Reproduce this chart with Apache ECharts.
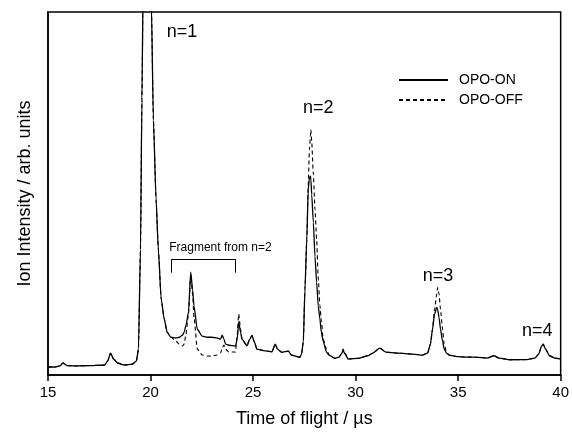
<!DOCTYPE html>
<html><head><meta charset="utf-8">
<script src="https://cdn.jsdelivr.net/npm/echarts@6/dist/echarts.min.js"></script>
<style>html,body{margin:0;padding:0;background:#fff}#c{width:572px;height:433px}</style>
</head><body><div id="c"></div>
<script>
// Time of flight (µs)
const timeUs = [15.00,15.34,15.58,15.73,15.92,16.31,17.03,17.76,17.91,18.05,18.20,18.39,18.73,19.12,19.31,19.41,19.51,19.58,19.65,19.75,19.85,19.95,20.04,20.14,20.27,20.38,20.52,20.67,20.81,20.99,21.24,21.40,21.56,21.64,21.73,21.85,21.96,22.05,22.12,22.28,22.52,22.75,22.99,23.24,23.42,23.49,23.58,23.66,23.82,24.14,24.23,24.30,24.39,24.46,24.70,24.84,24.95,25.06,25.19,25.51,25.92,26.08,26.19,26.40,26.72,26.87,27.28,27.36,27.45,27.53,27.62,27.69,27.75,27.80,27.82,27.86,27.94,28.02,28.10,28.18,28.26,28.33,28.42,28.58,28.71,28.99,29.20,29.30,29.39,29.49,29.63,30.12,30.60,30.84,31.18,31.47,32.05,32.78,33.26,33.51,33.65,33.75,33.85,33.96,34.00,34.07,34.14,34.24,34.32,34.43,34.56,34.96,35.45,35.93,36.42,36.74,37.00,37.53,38.35,38.74,38.93,39.07,39.15,39.26,39.46,39.71,40.00];
// Ion intensity, OPO-ON (arb. units)
const ionOn = [2.2,2.2,2.5,3.3,2.6,2.5,2.6,2.75,3.85,6.0,4.4,3.3,2.75,3.0,3.85,7.1,34.6,75.8,115,150,165,140,102,70.3,48.4,34.6,20.9,15.4,11.8,10.4,10.2,10.4,11.0,11.8,13.7,17.3,28.3,23.6,19.0,12.6,10.7,10.4,10.4,10.2,9.9,11.0,9.9,8.5,8.2,7.97,9.9,14.6,11.8,9.9,8.05,9.9,10.9,9.1,7.14,6.73,6.40,8.5,7.14,6.24,6.6,5.5,4.86,5.77,9.07,23.6,37.4,51.1,54.4,54.8,53.8,49.7,42.0,32.7,25.5,19.0,15.4,11.8,9.34,6.32,5.49,4.59,4.95,5.77,6.68,5.77,4.40,4.59,5.30,6.04,7.42,6.32,6.04,5.77,5.49,6.04,8.52,12.6,16.8,18.6,18.1,15.9,12.6,9.34,7.14,6.04,5.49,5.08,4.95,4.86,4.67,5.30,4.67,4.20,4.26,4.67,5.77,7.97,8.52,7.14,5.30,4.67,4.40];
// Ion intensity, OPO-OFF (arb. units)
const ionOff = [2.2,2.2,2.5,3.3,2.6,2.5,2.6,2.75,3.85,6.0,4.4,3.3,2.75,3.0,3.85,7.1,34.6,75.8,115,150,165,140,102,70.3,48.4,34.6,20.9,15.4,11.8,10.4,9.34,8.52,7.97,8.52,11.3,16.8,27.7,22.3,15.9,7.14,5.49,5.22,5.22,5.49,6.04,7.42,8.24,7.14,6.32,6.32,11.3,16.8,12.6,9.9,8.05,9.9,10.9,9.1,7.14,6.73,6.40,8.5,7.14,6.24,6.6,5.5,4.86,5.77,9.07,23.6,37.4,52.5,62.1,66.2,67.6,64.3,55.2,45.6,37.4,26.4,19.2,14.8,9.89,7.14,5.49,4.59,4.95,5.77,7.14,6.04,4.40,4.59,5.30,6.04,7.42,6.32,6.04,5.77,5.49,6.04,8.52,12.6,18.1,22.3,24.1,22.3,18.1,12.6,8.52,6.32,5.49,5.08,4.95,4.86,4.67,5.30,4.67,4.20,4.26,4.67,5.77,7.97,8.52,7.14,5.30,4.67,4.40];
const xTicks = [15, 20, 25, 30, 35, 40];
const peakLabels = ['n=1', 'n=2', 'n=3', 'n=4'];
const peakLabelPos = [[21.54, 94.5], [28.18, 73.6], [34.02, 27.3], [38.86, 12.2]];
const fragmentText = 'Fragment from n=2';
const fragmentRange = [21.0, 24.14];
const fragmentLevels = [31.9, 28.2];
const fragmentTextPos = [23.41, 35.0];

const FONT = '"Liberation Sans", Arial, sans-serif';
const chart = echarts.init(document.getElementById('c'), null, {renderer: 'canvas'});
const pair = arr => timeUs.map((t, i) => [t, arr[i]]);

chart.setOption({
  animation: false,
  backgroundColor: '#fff',
  textStyle: {fontFamily: FONT, color: '#000'},
  grid: {left: 48, right: 8, top: 12, bottom: 57, show: true, borderColor: '#000', borderWidth: 1.5, containLabel: false},
  legend: {
    data: ['OPO-ON', 'OPO-OFF'],
    orient: 'vertical', left: 393, top: 68,
    itemWidth: 49, itemHeight: 14, itemGap: 6,
    itemStyle: {opacity: 0},
    textStyle: {fontFamily: FONT, fontSize: 14, color: '#000', padding: [0, 0, 0, 6]},
    selectedMode: false
  },
  xAxis: {
    type: 'value', min: 15, max: 40, interval: 5,
    name: 'Time of flight / µs', nameLocation: 'middle', nameGap: 35,
    nameTextStyle: {fontFamily: FONT, fontSize: 18, color: '#000'},
    axisLine: {show: true, lineStyle: {color: '#000', width: 1.5}},
    axisTick: {show: true, inside: false, length: 6, lineStyle: {color: '#000', width: 1.5}},
    axisLabel: {fontFamily: FONT, fontSize: 15, color: '#000', margin: 10,
      formatter: v => xTicks.includes(v) ? String(v) : ''},
    splitLine: {show: false}
  },
  yAxis: {
    type: 'value', min: 0, max: 100,
    name: 'Ion Intensity / arb. units', nameLocation: 'middle', nameGap: 14,
    nameTextStyle: {fontFamily: FONT, fontSize: 18, color: '#000'},
    axisLine: {show: true, lineStyle: {color: '#000', width: 1.5}},
    axisTick: {show: false}, axisLabel: {show: false}, splitLine: {show: false}
  },
  series: [
    {
      name: 'OPO-OFF', type: 'line', data: pair(ionOff), symbol: 'none', clip: true,
      smooth: 0.2, smoothMonotone: 'x',
      lineStyle: {color: '#000', width: 1.1, type: [4, 3]}, itemStyle: {color: '#000'}
    },
    {
      name: 'OPO-ON', type: 'line', data: pair(ionOn), symbol: 'none', clip: true,
      smooth: 0.2, smoothMonotone: 'x',
      lineStyle: {color: '#000', width: 1.3}, itemStyle: {color: '#000'},
      markPoint: {
        symbol: 'circle', symbolSize: 1, itemStyle: {color: 'rgba(0,0,0,0)'},
        label: {show: true, position: 'inside', color: '#000', fontFamily: FONT, fontSize: 18, formatter: p => p.name},
        data: peakLabels.map((n, i) => ({name: n, coord: peakLabelPos[i]})).concat([
          {name: fragmentText, coord: fragmentTextPos, label: {fontSize: 12}}
        ])
      },
      markLine: {
        silent: true, symbol: 'none', label: {show: false},
        lineStyle: {color: '#000', width: 1, type: 'solid'},
        data: [
          [{coord: [fragmentRange[0], fragmentLevels[0]]}, {coord: [fragmentRange[1], fragmentLevels[0]]}],
          [{coord: [fragmentRange[0], fragmentLevels[0]]}, {coord: [fragmentRange[0], fragmentLevels[1]]}],
          [{coord: [fragmentRange[1], fragmentLevels[0]]}, {coord: [fragmentRange[1], fragmentLevels[1]]}]
        ]
      }
    }
  ]
});
</script></body></html>
